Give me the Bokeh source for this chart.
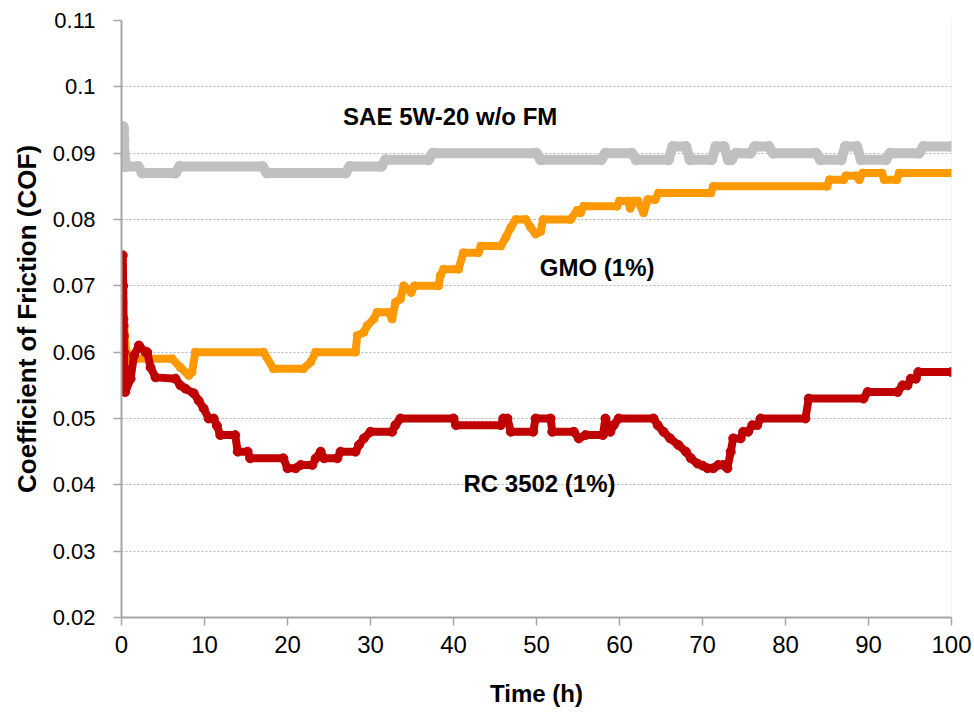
from bokeh.plotting import figure
from bokeh.models import FixedTicker, CustomJSTickFormatter, Label, Span, Range1d
from bokeh.embed import file_html
from bokeh.resources import INLINE

# ---------------- data ----------------
x_ticks = [0, 10, 20, 30, 40, 50, 60, 70, 80, 90, 100]
y_ticks = [0.02, 0.03, 0.04, 0.05, 0.06, 0.07, 0.08, 0.09, 0.10, 0.11]

sae_t = [0.1, 0.2, 0.25, 0.3, 0.35, 0.4, 0.5, 2.0, 2.5, 6.5, 7.0, 17.0, 17.5,
         27.0, 27.5, 31.3, 31.8, 37.0, 37.5, 50.0, 50.5, 57.8, 58.3, 61.5, 62.0,
         65.9, 66.4, 68.0, 68.5, 71.1, 71.6, 72.6, 73.1, 73.5, 74.0, 75.8, 76.3,
         78.0, 78.5, 83.7, 84.2, 86.7, 87.2, 88.6, 89.1, 92.1, 92.6, 96.1, 96.6, 100.0]
sae_cof = [0.088, 0.094, 0.0935, 0.092, 0.090, 0.089, 0.088, 0.088, 0.087, 0.087, 0.088, 0.088, 0.087,
           0.087, 0.088, 0.088, 0.089, 0.089, 0.090, 0.090, 0.089, 0.089, 0.090, 0.090, 0.089,
           0.089, 0.091, 0.091, 0.089, 0.089, 0.091, 0.091, 0.089, 0.089, 0.090, 0.090, 0.091,
           0.091, 0.090, 0.090, 0.089, 0.089, 0.091, 0.091, 0.089, 0.089, 0.090, 0.090, 0.091, 0.091]

gmo_t = [0.15, 0.2, 0.25, 0.3, 0.4, 0.6, 1.1, 6.1, 7.1, 8.1, 8.5, 8.9, 17.1, 18.3, 21.9,
         22.8, 23.4, 28.2, 28.4, 29.2, 29.6, 30.4, 30.8, 32.2, 32.6, 33.0, 33.6, 34.0,
         34.5, 34.9, 35.3, 38.2, 38.4, 38.8, 40.6, 41.2, 43.0, 43.3, 45.7, 46.3, 46.9,
         47.5, 48.7, 49.3, 49.9, 50.5, 50.8, 54.1, 54.9, 55.3, 55.7, 59.7, 60.0, 61.0,
         61.3, 61.7, 62.2, 62.9, 63.4, 64.3, 64.7, 71.0, 71.3, 85.0, 85.3, 87.0, 87.3,
         88.5, 88.9, 89.3, 91.6, 91.9, 93.4, 93.7, 100.0]
gmo_cof = [0.073, 0.069, 0.0675, 0.065, 0.062, 0.060, 0.059, 0.059, 0.0577, 0.0565, 0.057, 0.060, 0.060, 0.0575, 0.0575,
           0.0585, 0.060, 0.060, 0.0625, 0.063, 0.064, 0.065, 0.066, 0.066, 0.065, 0.0675, 0.068, 0.070,
           0.0695, 0.069, 0.070, 0.070, 0.0715, 0.0725, 0.0725, 0.075, 0.075, 0.076, 0.076, 0.0773, 0.0788,
           0.080, 0.080, 0.0788, 0.0778, 0.0782, 0.080, 0.080, 0.0814, 0.081, 0.082, 0.082, 0.0828, 0.0828,
           0.0817, 0.0828, 0.0828, 0.081, 0.083, 0.083, 0.084, 0.084, 0.085, 0.085, 0.086, 0.086, 0.0866,
           0.0866, 0.086, 0.087, 0.087, 0.086, 0.086, 0.087, 0.087]

rc_t = [0.15, 0.2, 0.22, 0.25, 0.28, 0.3, 0.35, 0.4, 0.45, 1.1, 1.5, 2.1, 2.9, 3.1, 3.5, 4.1,
        6.5, 7.1, 7.7, 8.7, 9.3, 9.9, 10.5, 11.1, 11.5, 11.9, 13.7, 14.0, 15.2, 15.5, 19.5,
        20.0, 21.0, 21.6, 23.0, 23.4, 24.0, 24.4, 26.0, 26.4, 28.2, 28.6, 29.2, 30.0, 32.6,
        33.0, 33.6, 40.0, 40.3, 45.7, 46.0, 46.5, 46.9, 49.6, 49.9, 51.7, 51.9, 54.5, 55.1,
        55.9, 58.0, 58.3, 58.9, 59.3, 59.9, 64.1, 64.6, 65.3, 66.1, 67.1, 68.0, 68.6, 69.4,
        70.0, 70.6, 71.3, 71.9, 72.5, 73.0, 73.4, 73.7, 74.6, 74.9, 75.5, 76.0, 76.6, 77.0,
        82.4, 82.8, 89.4, 89.9, 93.5, 94.1, 94.7, 95.1, 95.7, 96.0, 100.0]
rc_cof = [0.0746, 0.070, 0.065, 0.064, 0.0625, 0.060, 0.0575, 0.056, 0.054, 0.056, 0.0595, 0.061, 0.060, 0.060, 0.0577, 0.0562,
          0.056, 0.055, 0.0545, 0.0538, 0.0527, 0.0515, 0.050, 0.050, 0.0489, 0.0475, 0.0475, 0.045, 0.045, 0.044, 0.044,
          0.0425, 0.0425, 0.043, 0.043, 0.044, 0.045, 0.044, 0.044, 0.045, 0.045, 0.046, 0.047, 0.048, 0.048,
          0.049, 0.050, 0.050, 0.049, 0.049, 0.050, 0.050, 0.048, 0.048, 0.050, 0.050, 0.048, 0.048, 0.047,
          0.0475, 0.0475, 0.050, 0.048, 0.049, 0.050, 0.050, 0.049, 0.048, 0.047, 0.046, 0.045, 0.044, 0.0432,
          0.0429, 0.0425, 0.0425, 0.043, 0.043, 0.0425, 0.045, 0.047, 0.047, 0.048, 0.048, 0.049, 0.049, 0.050,
          0.050, 0.053, 0.053, 0.054, 0.054, 0.055, 0.055, 0.056, 0.056, 0.057, 0.057]

series_names = ["SAE 5W-20 w/o FM", "GMO (1%)", "RC 3502 (1%)"]

# ---------------- figure ----------------
p = figure(width=974, height=717, output_backend="svg", toolbar_location=None,
           x_range=Range1d(0, 100), y_range=Range1d(0.02, 0.11),
           min_border_left=121, min_border_right=23, min_border_top=20, min_border_bottom=100)
p.outline_line_color = None
p.background_fill_color = "white"
p.border_fill_color = "white"

AX = "#a6a6a6"
for ax in (p.xaxis[0], p.yaxis[0]):
    ax.axis_line_color = AX
    ax.axis_line_width = 2
    ax.major_tick_line_color = AX
    ax.major_tick_line_width = 1.5
    ax.major_tick_in = 0
    ax.major_tick_out = 8
    ax.minor_tick_line_color = None
    ax.major_label_text_color = "black"
    ax.axis_label_text_color = "black"
    ax.axis_label_text_font_style = "bold"

p.xaxis.ticker = FixedTicker(ticks=x_ticks)
p.yaxis.ticker = FixedTicker(ticks=y_ticks)
p.yaxis.formatter = CustomJSTickFormatter(code="return tick.toFixed(2).replace(/0$/, '');")

p.xaxis.major_label_text_font = "Liberation Sans"
p.xaxis.major_label_text_font_size = "24px"
p.xaxis.major_label_standoff = 10
p.xaxis.axis_label = "Time (h)"
p.xaxis.axis_label_text_font = "Liberation Sans"
p.xaxis.axis_label_text_font_size = "24px"
p.xaxis.axis_label_standoff = 24

p.yaxis.major_label_text_font = "Liberation Sans"
p.yaxis.major_label_text_font_size = "22px"
p.yaxis.major_label_standoff = 18
p.yaxis.axis_label = "Coefficient of Friction (COF)"
p.yaxis.axis_label_text_font = "Liberation Sans"
p.yaxis.axis_label_text_font_size = "26px"
p.yaxis.axis_label_standoff = 8

p.xgrid.grid_line_color = None
p.ygrid.grid_line_color = "#b3b3b3"
p.ygrid.grid_line_dash = "2 2"
p.ygrid.grid_line_width = 1

p.add_layout(Span(location=100, dimension="height", line_color="#e8e8e8", line_width=1))

# ---------------- series ----------------
p.line(sae_t, sae_cof, line_color="#c0c0c0", line_width=10, line_join="round", line_cap="round")
p.scatter(sae_t, sae_cof, size=10, color="#c0c0c0")
p.line(gmo_t, gmo_cof, line_color="#ff9900", line_width=8, line_join="round", line_cap="round")
p.scatter(gmo_t, gmo_cof, size=8, color="#ff9900")
p.line(rc_t, rc_cof, line_color="#c00000", line_width=8, line_join="round", line_cap="round")
p.scatter(rc_t, rc_cof, size=9, color="#c00000")

# ---------------- labels ----------------
label_pos = [(26.7, 0.0955), (50.4, 0.0728), (41.2, 0.0402)]
for name, (lx, ly) in zip(series_names, label_pos):
    p.add_layout(Label(x=lx, y=ly, text=name, text_font="Liberation Sans",
                       text_font_style="bold", text_font_size="24px",
                       text_baseline="middle", text_align="left", text_color="black"))

open("out.html", "w").write(file_html(p, INLINE))
